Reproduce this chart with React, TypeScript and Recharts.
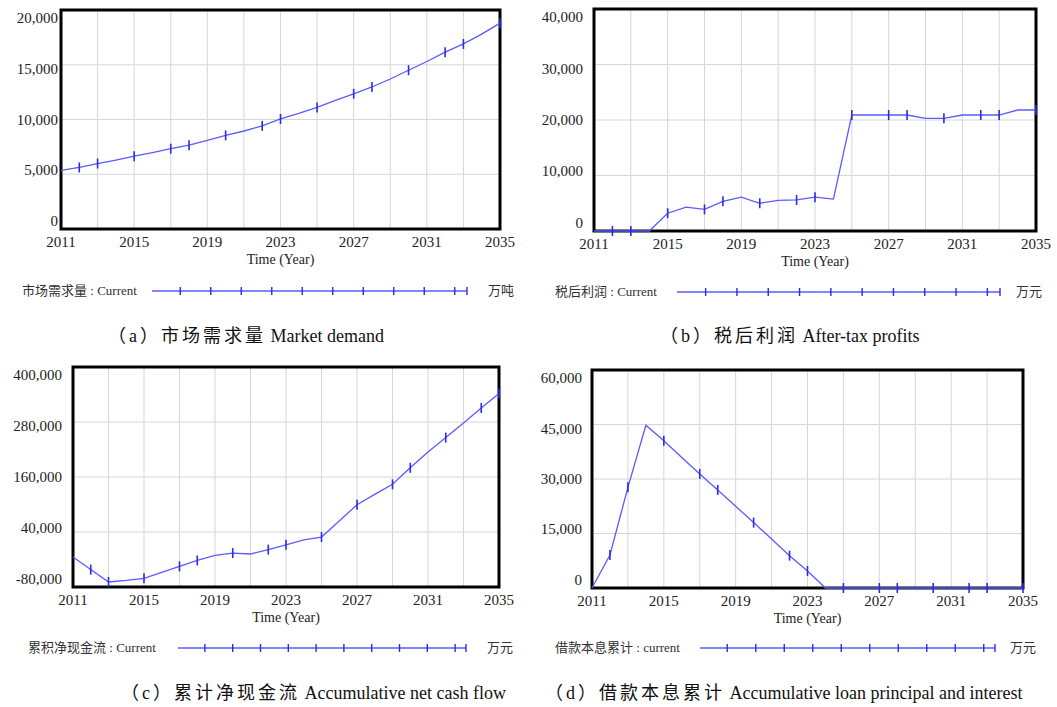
import React from 'react';
import { LineChart, Line, XAxis, YAxis, CartesianGrid, ReferenceArea } from 'recharts';

const years = [2011, 2012, 2013, 2014, 2015, 2016, 2017, 2018, 2019, 2020, 2021, 2022, 2023,
  2024, 2025, 2026, 2027, 2028, 2029, 2030, 2031, 2032, 2033, 2034, 2035];

// 市场需求量 (万吨)
const marketDemand = [5350, 5620, 5980, 6300, 6650, 6980, 7330, 7650, 8100, 8550, 8950, 9420, 10050,
  10550, 11100, 11750, 12350, 12970, 13700, 14500, 15300, 16150, 16900, 17800, 18800];

// 税后利润 (万元)
const afterTaxProfit = [0, 0, 0, 0, 3200, 4300, 3900, 5350, 6100, 5000, 5500, 5600, 6100,
  5750, 20900, 20900, 20900, 20900, 20300, 20300, 20900, 20900, 20900, 21800, 21800];

// 累积净现金流 (万元)
const netCashFlow = [-14500, -42000, -69000, -65500, -61000, -48000, -35000, -22000, -11000, -6000, -8000, 1500, 12000,
  23000, 29000, 64000, 99600, 122000, 144000, 180000, 214500, 246000, 278000, 310500, 342000];

// 借款本息累计 (万元)
const loanBalance = [0, 9100, 27700, 44800, 40500, 35900, 31400, 27000, 22500, 18000, 13500, 8900, 4700,
  0, 0, 0, 0, 0, 0, 0, 0, 0, 0, 0, 0];

const gridYears = [2011, 2013, 2015, 2017, 2019, 2021, 2023, 2025, 2027, 2029, 2031, 2033, 2035];
const markerYears = [2012, 2013, 2015, 2017, 2018, 2020, 2022, 2023, 2025, 2027, 2028, 2030, 2032, 2033, 2035];
const markerYearsC = [2012, 2013, 2015, 2017, 2018, 2020, 2022, 2023, 2025, 2027, 2029, 2030, 2032, 2034, 2035];

const demandTicks = [0, 5000, 10000, 15000, 20000];
const profitTicks = [0, 10000, 20000, 30000, 40000];
const cashTicks = [-80000, 40000, 160000, 280000, 400000];
const loanTicks = [0, 15000, 30000, 45000, 60000];

const SERIF = '"Liberation Serif", "Times New Roman", serif';
const CJK = '"Liberation Serif", "Noto Sans CJK SC", serif';
const LINE_COLOR = '#5b5bff';
const MARK_COLOR = '#2a2aee';

const W = 529;
const H = 275;
const AXIS_H = 36;

type PanelProps = {
  x: number;
  y: number;
  plotLeft: number;
  plotTop: number;
  plotRight: number;
  plotBottom: number;
  values: number[];
  yTicks: number[];
  markers: number[];
  labelGap: number;
};

const Panel = ({ x, y, plotLeft, plotTop, plotRight, plotBottom, values, yTicks, markers, labelGap }: PanelProps) => {
  const data = years.map((yr, i) => ({ year: yr, value: values[i] }));
  const top = plotTop - y;
  const bottom = plotBottom - y;
  const mid = (top + bottom) / 2;
  const yAxisW = plotLeft - x;

  const yTick = (p: any) => (
    <text x={yAxisW - labelGap} y={mid + (p.y - mid) * 0.925} textAnchor="end" dominantBaseline="central"
      fontFamily={SERIF} fontSize={15} fill="#222">
      {Number(p.payload.value).toLocaleString('en-US')}
    </text>
  );

  const xTick = (p: any) =>
    (p.payload.value - 2011) % 4 === 0 ? (
      <text x={p.x} y={bottom + 13} textAnchor="middle" dominantBaseline="central"
        fontFamily={SERIF} fontSize={15} fill="#222">
        {p.payload.value}
      </text>
    ) : <g />;

  const xLabel = (p: any) => (
    <text x={p.viewBox.x + p.viewBox.width / 2} y={bottom + 30} textAnchor="middle" dominantBaseline="central"
      fontFamily={SERIF} fontSize={14} fill="#222">
      Time (Year)
    </text>
  );

  const marker = (p: any) => {
    if (!markers.includes(p.payload.year)) return <g key={p.key} />;
    return <line key={p.key} x1={p.cx} x2={p.cx} y1={p.cy - 5} y2={p.cy + 5} stroke={MARK_COLOR} strokeWidth={1.6} />;
  };

  return (
    <div style={{ position: 'absolute', left: x, top: y }}>
      <LineChart width={W} height={H} data={data}
        margin={{ top, right: x + W - plotRight, left: 0, bottom: H - bottom - AXIS_H }}>
        <CartesianGrid stroke="#d6d6d6" strokeWidth={1} />
        <XAxis type="number" dataKey="year" domain={[2011, 2035]} ticks={gridYears} interval={0}
          axisLine={false} tickLine={false} tick={xTick} height={AXIS_H} label={xLabel} />
        <YAxis type="number" domain={[yTicks[0], yTicks[yTicks.length - 1]]} ticks={yTicks} interval={0}
          axisLine={false} tickLine={false} tick={yTick} width={yAxisW} />
        <ReferenceArea x1={2011} x2={2035} y1={yTicks[0]} y2={yTicks[yTicks.length - 1]}
          fill="none" stroke="#000" strokeWidth={3} ifOverflow="visible" />
        <Line type="linear" dataKey="value" stroke={LINE_COLOR} strokeWidth={1.3} dot={marker}
          activeDot={false} isAnimationActive={false} />
      </LineChart>
    </div>
  );
};

type LegendProps = { textX: number; lineX1: number; lineX2: number; unitX: number; y: number; name: string; run: string; unit: string };

const LegendRow = ({ textX, lineX1, lineX2, unitX, y, name, run, unit }: LegendProps) => {
  const n = 10;
  const step = (lineX2 - lineX1 - 10) / n;
  const ticks = Array.from({ length: n }, (_, i) => lineX1 + 10 + step * (i + 1) - step / 2 + 3);
  return (
    <>
      <div style={{ position: 'absolute', left: textX, top: y - 9, fontFamily: CJK, fontSize: 13, color: '#333', whiteSpace: 'nowrap', lineHeight: '18px' }}>
        {name} : {run}
      </div>
      <svg style={{ position: 'absolute', left: 0, top: y - 8 }} width={1057} height={16}>
        <line x1={lineX1} x2={lineX2} y1={8} y2={8} stroke={LINE_COLOR} strokeWidth={1.3} />
        {ticks.map((t) => (
          <line key={t} x1={t} x2={t} y1={4} y2={12} stroke={MARK_COLOR} strokeWidth={1.4} />
        ))}
        <line x1={lineX2} x2={lineX2} y1={4} y2={12} stroke={MARK_COLOR} strokeWidth={1.4} />
      </svg>
      <div style={{ position: 'absolute', left: unitX, top: y - 9, fontFamily: CJK, fontSize: 13, color: '#333', lineHeight: '18px' }}>
        {unit}
      </div>
    </>
  );
};

const Caption = ({ x, y, label, zh, en }: { x: number; y: number; label: string; zh: string; en: string }) => (
  <div style={{ position: 'absolute', left: x, top: y - 13, fontFamily: CJK, fontSize: 18, color: '#111', whiteSpace: 'nowrap', lineHeight: '26px' }}>
    <span style={{ letterSpacing: 3 }}>（{label}）{zh}</span> {en}
  </div>
);

export default function App() {
  return (
    <div style={{ position: 'absolute', left: 0, top: 0, width: 1057, height: 707, background: '#fff', overflow: 'hidden' }}>
      <Panel x={0} y={0} plotLeft={61} plotTop={10} plotRight={500} plotBottom={229}
        values={marketDemand} yTicks={demandTicks} markers={markerYears} labelGap={3} />
      <Panel x={528} y={0} plotLeft={594} plotTop={9} plotRight={1036} plotBottom={231}
        values={afterTaxProfit} yTicks={profitTicks} markers={markerYears} labelGap={11} />
      <Panel x={0} y={357} plotLeft={73} plotTop={367} plotRight={499} plotBottom={587}
        values={netCashFlow} yTicks={cashTicks} markers={markerYearsC} labelGap={11} />
      <Panel x={528} y={357} plotLeft={592} plotTop={370} plotRight={1023} plotBottom={588}
        values={loanBalance} yTicks={loanTicks} markers={markerYears} labelGap={10} />

      <LegendRow textX={22} lineX1={152} lineX2={467} unitX={488} y={291} name="市场需求量" run="Current" unit="万吨" />
      <LegendRow textX={555} lineX1={677} lineX2={1000} unitX={1016} y={292} name="税后利润" run="Current" unit="万元" />
      <LegendRow textX={28} lineX1={178} lineX2={466} unitX={487} y={648} name="累积净现金流" run="Current" unit="万元" />
      <LegendRow textX={555} lineX1={700} lineX2={995} unitX={1010} y={648} name="借款本息累计" run="current" unit="万元" />

      <Caption x={108} y={336} label="a" zh="市场需求量" en="Market demand" />
      <Caption x={660} y={336} label="b" zh="税后利润" en="After-tax profits" />
      <Caption x={121} y={693} label="c" zh="累计净现金流" en="Accumulative net cash flow" />
      <Caption x={545} y={693} label="d" zh="借款本息累计" en="Accumulative loan principal and interest" />
    </div>
  );
}
